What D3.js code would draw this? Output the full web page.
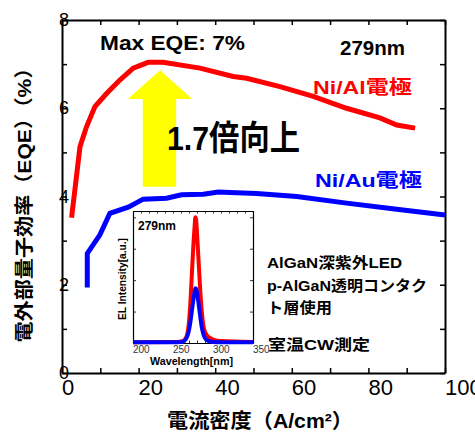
<!DOCTYPE html>
<html>
<head>
    <meta charset="utf-8">
    <title>EQE vs current density</title>
    <script src="https://d3js.org/d3.v7.min.js"></script>
    <style>
        body { margin: 0; background: #fff; }
        svg { display: block; }
        text { font-family: "Liberation Sans", "Noto Sans CJK JP", sans-serif; }
        .ax path, .ax line { stroke: #000; }
    </style>
</head>
<body>
<div id="chart"></div>
<script>
    // main curves: current density (A/cm2) vs EQE (%)
    const jAl = [2.5, 4.7, 6.4, 8.6, 11.7, 15.1, 18.6, 22.5, 26.4, 36, 44.7, 48.2, 56.9, 65.6, 74.3, 83, 87.4, 92.2];
    const eqeAl = [3.52, 5.13, 5.58, 6.04, 6.34, 6.64, 6.91, 7.04, 7.04, 6.91, 6.72, 6.68, 6.49, 6.27, 6.0, 5.78, 5.62, 5.55];
    const jAu = [6.6, 6.6, 9.9, 12.5, 17.3, 21.2, 27.3, 31.2, 36.9, 40.8, 43.9, 50.8, 61.3, 74.3, 87.4, 100];
    const eqeAu = [1.94, 2.71, 3.13, 3.62, 3.76, 3.94, 3.96, 4.04, 4.05, 4.1, 4.09, 4.07, 4.0, 3.85, 3.71, 3.58];

    // inset spectra
    const wl = [200, 250, 262, 266, 269, 271, 273, 275, 277, 278, 279, 280, 282, 284, 286, 288, 291, 295, 300, 310, 350];
    const elAl = [0.02, 0.03, 0.06, 0.15, 0.45, 1.0, 1.9, 2.9, 3.7, 4.0, 3.9, 3.5, 2.6, 1.7, 1.0, 0.55, 0.3, 0.18, 0.11, 0.06, 0.03];
    const elAu = [0.02, 0.02, 0.04, 0.12, 0.3, 0.55, 0.9, 1.3, 1.62, 1.74, 1.72, 1.6, 1.25, 0.85, 0.5, 0.28, 0.12, 0.06, 0.03, 0.02, 0.02];

    const xTicks = [0, 20, 40, 60, 80, 100];
    const yTicks = [0, 2, 4, 6, 8];
    const insetXTicks = [200, 250, 300, 350];

    const width = 475, height = 432;
    const svg = d3.select('#chart').append('svg')
        .attr('width', width).attr('height', height);

    const x = d3.scaleLinear().domain([0, 100]).range([62, 445]);
    const y = d3.scaleLinear().domain([0, 8]).range([373, 20]);

    // arrow (behind the text)
    const arrow = [[21.1, 4.22], [21.1, 6.21], [17.2, 6.21], [25.6, 6.86], [34.0, 6.21], [29.8, 6.21], [29.8, 4.22]];
    svg.append('polygon')
        .attr('points', arrow.map(p => [x(p[0]), y(p[1])].join(',')).join(' '))
        .attr('fill', '#ffff00');

    // axes, ticks inward on all four sides
    const minorX = d3.range(0, 101, 10);
    const minorY = d3.range(0, 9, 1);
    svg.append('g').attr('class', 'ax').attr('transform', `translate(0,${y(0)})`)
        .call(d3.axisBottom(x).tickValues(minorX).tickSize(-5).tickSizeOuter(0).tickFormat(''));
    svg.append('g').attr('class', 'ax').attr('transform', `translate(0,${y(8)})`)
        .call(d3.axisTop(x).tickValues(minorX).tickSize(-5).tickSizeOuter(0).tickFormat(''));
    svg.append('g').attr('class', 'ax').attr('transform', `translate(${x(0)},0)`)
        .call(d3.axisLeft(y).tickValues(minorY).tickSize(-5).tickSizeOuter(0).tickFormat(''));
    svg.append('g').attr('class', 'ax').attr('transform', `translate(${x(100)},0)`)
        .call(d3.axisRight(y).tickValues(minorY).tickSize(-5).tickSizeOuter(0).tickFormat(''));
    svg.selectAll('.ax path').attr('stroke-width', 2);
    svg.selectAll('.ax line').attr('stroke-width', 1.5);

    svg.append('g').selectAll('text').data(xTicks).join('text')
        .attr('x', d => x(d)).attr('y', 395)
        .attr('font-size', 22)
        .text(d => d);
    svg.append('g').selectAll('text').data(yTicks).join('text')
        .attr('x', x(0) + 2).attr('y', d => y(d))
        .attr('text-anchor', 'middle').attr('dominant-baseline', 'central')
        .attr('font-size', 18)
        .text(d => d);

    // axis titles
    svg.append('text')
        .attr('transform', 'translate(31,200) rotate(-90)')
        .attr('text-anchor', 'middle')
        .attr('font-size', 19).attr('font-weight', 'bold')
        .attr('textLength', 285).attr('lengthAdjust', 'spacingAndGlyphs')
        .text('電外部量子効率（EQE）（%）');
    svg.append('text')
        .attr('x', 260).attr('y', 428)
        .attr('text-anchor', 'middle')
        .attr('font-size', 20).attr('font-weight', 'bold')
        .attr('textLength', 186).attr('lengthAdjust', 'spacingAndGlyphs')
        .text('電流密度（A/cm²）');

    // curves
    const line = d3.line().x(d => x(d[0])).y(d => y(d[1]));
    svg.append('path')
        .attr('d', line(d3.zip(jAl, eqeAl)))
        .attr('fill', 'none').attr('stroke', '#ff0000').attr('stroke-width', 5);
    svg.append('path')
        .attr('d', line(d3.zip(jAu, eqeAu)))
        .attr('fill', 'none').attr('stroke', '#0000ff').attr('stroke-width', 5);

    // labels
    function label(tx, ty, size, len, str, color) {
        svg.append('text')
            .attr('x', tx).attr('y', ty)
            .attr('font-size', size).attr('font-weight', 'bold')
            .attr('fill', color || '#000')
            .attr('textLength', len).attr('lengthAdjust', 'spacingAndGlyphs')
            .text(str);
    }
    label(100, 50, 20, 145, 'Max EQE: 7%');
    label(340, 55, 20, 65, '279nm');
    label(313, 94, 19, 99, 'Ni/Al電極', '#ff0000');
    label(167, 150, 34, 133, '1.7倍向上');
    label(315, 187, 19, 107, 'Ni/Au電極', '#0000ff');
    label(267, 268, 15, 135, 'AlGaN深紫外LED');
    label(267, 291, 15, 160, 'p-AlGaN透明コンタク');
    label(267, 313, 15, 65, 'ト層使用');
    label(268, 350, 15, 102, '室温CW測定');

    // inset
    const xi = d3.scaleLinear().domain([200, 350]).range([133, 253]);
    const yi = d3.scaleLinear().domain([0, 4.2]).range([343, 211]);
    const inset = svg.append('g');
    inset.append('rect')
        .attr('x', xi(200)).attr('y', yi(4.2))
        .attr('width', xi(350) - xi(200)).attr('height', yi(0) - yi(4.2))
        .attr('fill', '#fff');
    const insetMinor = d3.range(200, 351, 10);
    inset.append('g').attr('class', 'ax').attr('transform', `translate(0,${yi(0)})`)
        .call(d3.axisBottom(xi).tickValues(insetMinor).tickSize(-2.5).tickSizeOuter(0).tickFormat(''));
    inset.append('g').attr('class', 'ax').attr('transform', `translate(0,${yi(4.2)})`)
        .call(d3.axisTop(xi).tickValues(insetMinor).tickSize(-2.5).tickSizeOuter(0).tickFormat(''));
    inset.append('g').attr('class', 'ax').attr('transform', `translate(${xi(200)},0)`)
        .call(d3.axisLeft(yi).tickValues([1, 2, 3, 4]).tickSize(-3).tickSizeOuter(0).tickFormat(''));
    inset.append('g').attr('class', 'ax').attr('transform', `translate(${xi(350)},0)`)
        .call(d3.axisRight(yi).tickValues([1, 2, 3, 4]).tickSize(-3).tickSizeOuter(0).tickFormat(''));
    inset.selectAll('.ax path').attr('stroke-width', 1.2);
    inset.selectAll('.ax line').attr('stroke-width', 0.8);

    const sline = d3.line().x(d => xi(d[0])).y(d => yi(d[1])).curve(d3.curveMonotoneX);
    inset.append('path')
        .attr('d', sline(d3.zip(wl, elAl)))
        .attr('fill', 'none').attr('stroke', '#ff0000').attr('stroke-width', 4);
    inset.append('path')
        .attr('d', sline(d3.zip(wl, elAu)))
        .attr('fill', 'none').attr('stroke', '#0000ff').attr('stroke-width', 4);

    inset.append('g').selectAll('text').data(insetXTicks).join('text')
        .attr('x', d => xi(d)).attr('y', 353)
        .attr('font-family', '"Liberation Serif", serif')
        .attr('font-size', 10).attr('fill', '#333')
        .text(d => d);
    inset.append('text')
        .attr('x', 138).attr('y', 230)
        .attr('font-size', 12).attr('font-weight', 'bold')
        .text('279nm');
    inset.append('text')
        .attr('x', 150).attr('y', 365)
        .attr('font-size', 11).attr('font-weight', 'bold')
        .attr('textLength', 83).attr('lengthAdjust', 'spacingAndGlyphs')
        .text('Wavelength[nm]');
    inset.append('text')
        .attr('transform', 'translate(126,279) rotate(-90)')
        .attr('text-anchor', 'middle')
        .attr('font-size', 10).attr('font-weight', 'bold')
        .attr('textLength', 82).attr('lengthAdjust', 'spacingAndGlyphs')
        .text('EL Intensity[a.u.]');
</script>
</body>
</html>
